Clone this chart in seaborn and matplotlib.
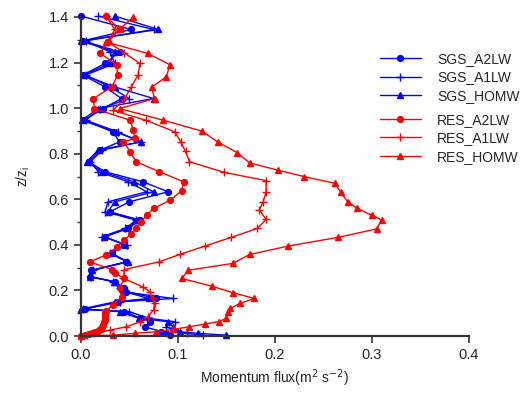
import numpy as np
import pandas as pd
import matplotlib
matplotlib.use('Agg')
import matplotlib.pyplot as plt
import seaborn as sns

# heights (z/zi) and fluxes
sgs_z = [1.404, 1.345, 1.295, 1.247, 1.196, 1.145, 1.093, 1.042, 0.998, 0.947,
         0.896, 0.852, 0.816, 0.765, 0.721, 0.677, 0.633, 0.589, 0.545, 0.509,
         0.472, 0.436, 0.400, 0.363, 0.326, 0.289, 0.260, 0.239, 0.209, 0.195,
         0.165, 0.150, 0.118, 0.107, 0.078, 0.063, 0.041, 0.019, 0.012, 0.004]
sgs_a2lw = [0.000, 0.052, 0.002, 0.040, 0.025, 0.002, 0.025, 0.042, 0.023, 0.003,
            0.033, 0.040, 0.020, 0.008, 0.025, 0.064, 0.090, 0.050, 0.030, 0.061,
            0.049, 0.025, 0.045, 0.032, 0.047, 0.011, 0.009, 0.035, 0.045, 0.047,
            0.078, 0.038, 0.004, 0.045, 0.062, 0.071, 0.066, 0.083, 0.088, 0.092]
sgs_a1lw = [0.018, 0.075, 0.005, 0.030, 0.035, 0.005, 0.030, 0.050, 0.020, 0.005,
            0.038, 0.062, 0.022, 0.010, 0.018, 0.049, 0.068, 0.028, 0.025, 0.057,
            0.046, 0.022, 0.048, 0.030, 0.048, 0.013, 0.011, 0.033, 0.040, 0.043,
            0.095, 0.040, 0.002, 0.050, 0.070, 0.097, 0.088, 0.100, 0.109, 0.126]
sgs_homw = [0.035, 0.080, 0.000, 0.035, 0.030, 0.003, 0.035, 0.075, 0.018, 0.001,
            0.036, 0.062, 0.018, 0.006, 0.022, 0.055, 0.075, 0.035, 0.028, 0.059,
            0.047, 0.024, 0.046, 0.031, 0.049, 0.012, 0.010, 0.034, 0.042, 0.045,
            0.070, 0.035, 0.000, 0.040, 0.060, 0.090, 0.095, 0.102, 0.121, 0.150]

res_a2lw_z = [1.404, 1.345, 1.290, 1.242, 1.189, 1.145, 1.093, 1.042, 0.998, 0.947,
              0.904, 0.867, 0.852, 0.808, 0.765, 0.721, 0.677, 0.637, 0.596, 0.560,
              0.530, 0.501, 0.472, 0.450, 0.421, 0.390, 0.355, 0.326, 0.292, 0.275,
              0.253, 0.210, 0.172, 0.136, 0.110, 0.100, 0.090, 0.080, 0.070, 0.060,
              0.050, 0.040, 0.030, 0.025, 0.020, 0.016, 0.012, 0.008, 0.004, 0.000]
res_a2lw = [0.026, 0.040, 0.028, 0.020, 0.037, 0.038, 0.032, 0.013, 0.014, 0.051,
            0.054, 0.056, 0.044, 0.051, 0.057, 0.081, 0.106, 0.104, 0.092, 0.075,
            0.068, 0.062, 0.057, 0.052, 0.045, 0.037, 0.026, 0.009, 0.032, 0.035,
            0.045, 0.040, 0.042, 0.033, 0.026, 0.025, 0.025, 0.025, 0.025, 0.024,
            0.023, 0.022, 0.021, 0.019, 0.017, 0.015, 0.012, 0.008, 0.004, 0.000]

res_a1lw_z = [1.404, 1.345, 1.290, 1.242, 1.196, 1.145, 1.093, 1.040, 0.990, 0.947,
              0.896, 0.852, 0.810, 0.765, 0.718, 0.682, 0.633, 0.589, 0.553, 0.512,
              0.472, 0.433, 0.395, 0.358, 0.326, 0.292, 0.253, 0.216, 0.195, 0.165,
              0.143, 0.114, 0.085, 0.063, 0.041, 0.026, 0.012, 0.004, 0.000]
res_a1lw = [0.026, 0.035, 0.028, 0.045, 0.061, 0.059, 0.052, 0.045, 0.033, 0.067,
            0.097, 0.103, 0.108, 0.112, 0.148, 0.191, 0.191, 0.188, 0.184, 0.191,
            0.182, 0.155, 0.128, 0.102, 0.081, 0.045, 0.044, 0.064, 0.071, 0.074,
            0.076, 0.075, 0.069, 0.061, 0.047, 0.030, 0.014, 0.006, 0.000]

res_homw_z = [1.400, 1.345, 1.290, 1.240, 1.190, 1.137, 1.091, 1.042, 0.998, 0.947,
              0.899, 0.852, 0.805, 0.760, 0.728, 0.700, 0.670, 0.630, 0.590, 0.560,
              0.530, 0.510, 0.470, 0.433, 0.395, 0.358, 0.319, 0.289, 0.253, 0.219,
              0.190, 0.165, 0.143, 0.121, 0.107, 0.078, 0.063, 0.053, 0.041, 0.029,
              0.019, 0.012, 0.004, 0.000]
res_homw = [0.054, 0.040, 0.026, 0.069, 0.092, 0.088, 0.073, 0.076, 0.040, 0.085,
            0.125, 0.141, 0.161, 0.174, 0.203, 0.230, 0.262, 0.268, 0.275, 0.285,
            0.300, 0.310, 0.305, 0.265, 0.214, 0.174, 0.157, 0.111, 0.104, 0.135,
            0.157, 0.179, 0.164, 0.154, 0.152, 0.150, 0.142, 0.128, 0.112, 0.095,
            0.078, 0.056, 0.033, 0.000]

series = [
    ('SGS_A2LW', sgs_a2lw, sgs_z, 'blue', 'o', 4.2),
    ('SGS_A1LW', sgs_a1lw, sgs_z, 'blue', '+', 5.5),
    ('SGS_HOMW', sgs_homw, sgs_z, 'blue', '^', 4.5),
    ('RES_A2LW', res_a2lw, res_a2lw_z, 'red', 'o', 4.2),
    ('RES_A1LW', res_a1lw, res_a1lw_z, 'red', '+', 5.5),
    ('RES_HOMW', res_homw, res_homw_z, 'red', '^', 4.5),
]

sns.set_style('ticks')
plt.rcParams['font.family'] = ['Liberation Sans', 'DejaVu Sans']

fig = plt.figure(figsize=(5.28, 3.94), dpi=100)
ax = fig.add_axes([0.153, 0.147, 0.735, 0.81])

handles = []
for name, flux, z, color, marker, ms in series:
    df = pd.DataFrame({'flux': flux, 'z': z})
    sns.lineplot(data=df, x='flux', y='z', sort=False, estimator=None,
                 color=color, marker=marker, markersize=ms, linewidth=1.0,
                 markeredgecolor=color, markeredgewidth=1.0, label=name,
                 clip_on=False, ax=ax)
    handles.append(ax.lines[-1])

ax.set_xlim(0, 0.4)
ax.set_ylim(0, 1.4)
ax.set_xticks([0.0, 0.1, 0.2, 0.3, 0.4])
ax.set_yticks(np.arange(0, 1.41, 0.2))
ax.set_yticks(np.arange(0.1, 1.4, 0.2), minor=True)
ax.xaxis.set_major_formatter(matplotlib.ticker.FormatStrFormatter('%.1f'))
ax.yaxis.set_major_formatter(matplotlib.ticker.FormatStrFormatter('%.1f'))
ax.tick_params(which='major', length=5, width=1.2, labelsize=10.5, color='#333333')
ax.tick_params(which='minor', length=3, width=1.0, color='#333333')
for s in ['top', 'right']:
    ax.spines[s].set_visible(False)
for s in ['left', 'bottom']:
    ax.spines[s].set_linewidth(1.6)
    ax.spines[s].set_color('#333333')

ax.set_xlabel(r'Momentum flux(m$^2$ s$^{-2}$)', fontsize=10)
ax.set_ylabel(r'z/z$_\mathregular{i}$', fontsize=10)
ax.yaxis.set_label_coords(-0.125, 0.5)

leg_kw = dict(loc='upper left', frameon=False, fontsize=10, handlelength=2.95,
              labelspacing=0.32, handletextpad=1.15, borderpad=0, borderaxespad=0)
leg1 = ax.legend(handles=handles[:3], labels=[s[0] for s in series[:3]],
                 bbox_to_anchor=(0.771, 0.89), **leg_kw)
ax.add_artist(leg1)
ax.legend(handles=handles[3:], labels=[s[0] for s in series[3:]],
          bbox_to_anchor=(0.771, 0.70), **leg_kw)

fig.savefig('out.png', dpi=100)
